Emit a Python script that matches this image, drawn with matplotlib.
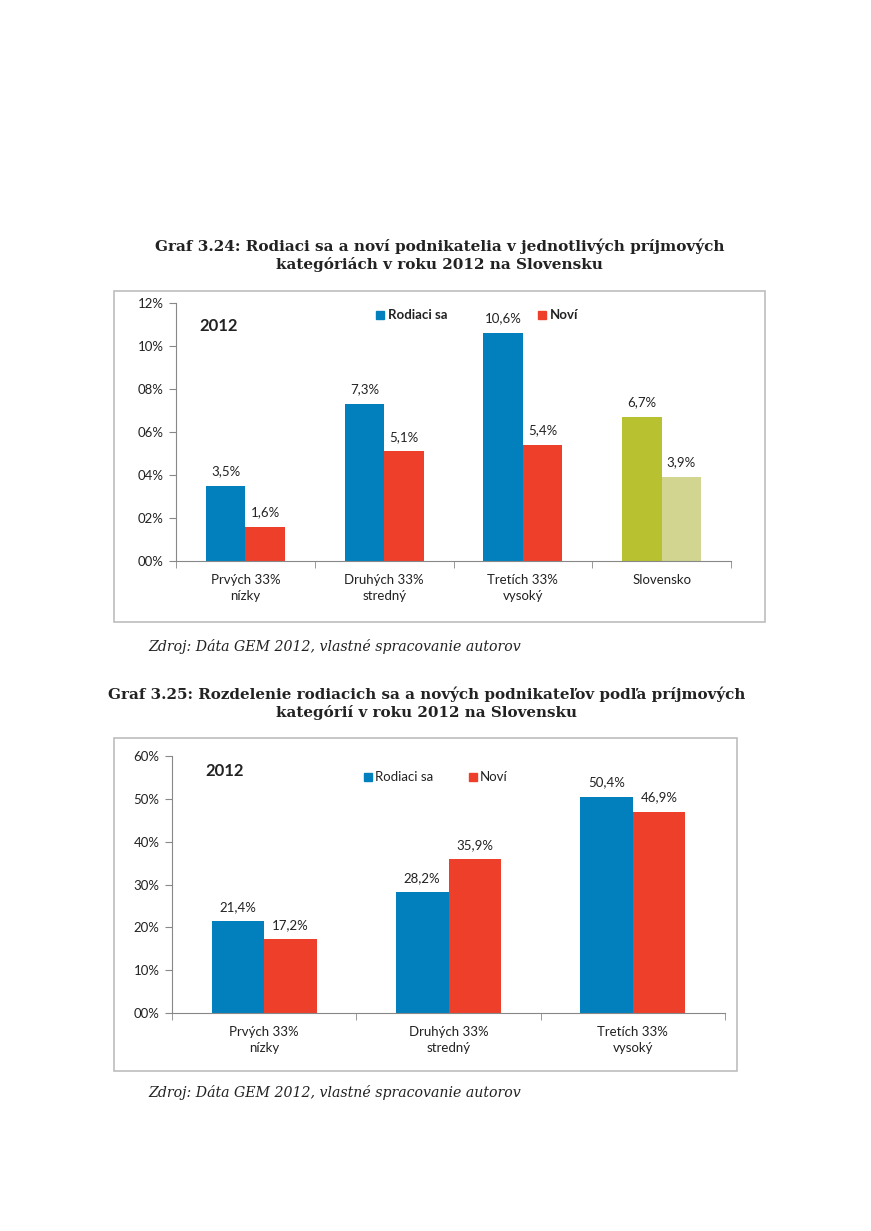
import matplotlib
matplotlib.use("Agg")
import matplotlib.pyplot as plt
from matplotlib.patches import Rectangle
from matplotlib.ticker import FuncFormatter
import numpy as np

# data
kat1 = ["Prvých 33%\nnízky", "Druhých 33%\nstredný", "Tretích 33%\nvysoký", "Slovensko"]
rodiaci1 = [3.5, 7.3, 10.6, 6.7]
novi1 = [1.6, 5.1, 5.4, 3.9]

kat2 = ["Prvých 33%\nnízky", "Druhých 33%\nstredný", "Tretích 33%\nvysoký"]
rodiaci2 = [21.4, 28.2, 50.4]
novi2 = [17.2, 35.9, 46.9]

modra = "#0180BD"
cervena = "#EE3F2B"
zelena = "#B8C130"
zelena2 = "#D1D58F"

W, H = 871, 1231
fig = plt.figure(figsize=(W / 100, H / 100), dpi=100)
plt.rcParams["font.family"] = ["Lato", "DejaVu Sans"]


def fx(x):
    return x / W


def fy(y):
    return 1 - y / H


def ramik(x0, y0, x1, y1):
    fig.add_artist(Rectangle((fx(x0), fy(y1)), fx(x1) - fx(x0), fy(y0) - fy(y1),
                             transform=fig.transFigure, fill=False,
                             edgecolor="#BDBDBD", lw=1.2))


def graf(ax, kat, a, b, farby_a, farby_b, ymax, krok):
    x = np.arange(len(kat))
    w = 0.285
    ax.bar(x - w / 2, a, w, color=farby_a)
    ax.bar(x + w / 2, b, w, color=farby_b)
    for i in range(len(kat)):
        ax.text(x[i] - w / 2, a[i] + ymax * 0.033, f"{a[i]:.1f}%".replace(".", ","),
                ha="center", va="bottom", fontsize=9.5, color="#222222")
        ax.text(x[i] + w / 2, b[i] + ymax * 0.033, f"{b[i]:.1f}%".replace(".", ","),
                ha="center", va="bottom", fontsize=9.5, color="#222222")
    ax.set_xlim(-0.5, len(kat) - 0.5)
    ax.set_ylim(0, ymax)
    ax.set_yticks(np.arange(0, ymax + 0.01, krok))
    ax.yaxis.set_major_formatter(FuncFormatter(lambda v, p: f"{int(round(v)):02d}%"))
    ax.set_xticks(x)
    ax.set_xticklabels(kat, fontsize=9.5, color="#222222", linespacing=1.5)
    ax.set_xticks(np.arange(-0.5, len(kat), 1), minor=True)
    ax.tick_params(axis="x", which="major", length=0, pad=9)
    ax.tick_params(axis="x", which="minor", length=5, color="#888888")
    ax.tick_params(axis="y", length=5, color="#888888", labelsize=9.5,
                   labelcolor="#222222", pad=4)
    for s in ["top", "right"]:
        ax.spines[s].set_visible(False)
    for s in ["left", "bottom"]:
        ax.spines[s].set_color("#888888")


# Graf 3.24
fig.text(0.505, fy(246), "Graf 3.24: Rodiaci sa a noví podnikatelia v jednotlivých príjmových",
         ha="center", va="center", fontsize=11, fontweight="bold", family="DejaVu Serif", color="#222222")
fig.text(0.505, fy(265), "kategóriách v roku 2012 na Slovensku",
         ha="center", va="center", fontsize=11, fontweight="bold", family="DejaVu Serif", color="#222222")
ramik(114, 291, 765, 622)
ax1 = fig.add_axes([fx(176), fy(561), fx(731) - fx(176), fy(303) - fy(561)])
graf(ax1, kat1, rodiaci1, novi1, [modra] * 3 + [zelena], [cervena] * 3 + [zelena2], 12, 2)
fig.text(fx(199), fy(326), "2012", fontsize=12, fontweight="bold", va="center", color="#222222")
fig.add_artist(Rectangle((fx(376), fy(319)), fx(8), 8 / H, transform=fig.transFigure, color=modra))
fig.text(fx(388), fy(315), "Rodiaci sa", fontsize=9.5, fontweight="bold", va="center", color="#222222")
fig.add_artist(Rectangle((fx(538), fy(319)), fx(8), 8 / H, transform=fig.transFigure, color=cervena))
fig.text(fx(550), fy(315), "Noví", fontsize=9.5, fontweight="bold", va="center", color="#222222")
fig.text(fx(148), fy(647), "Zdroj: Dáta GEM 2012, vlastné spracovanie autorov",
         fontsize=10.2, style="italic", family="DejaVu Serif", va="center", color="#222222")

# Graf 3.25
fig.text(0.49, fy(694), "Graf 3.25: Rozdelenie rodiacich sa a nových podnikateľov podľa príjmových",
         ha="center", va="center", fontsize=10.9, fontweight="bold", family="DejaVu Serif", color="#222222")
fig.text(0.49, fy(713), "kategórií v roku 2012 na Slovensku",
         ha="center", va="center", fontsize=10.9, fontweight="bold", family="DejaVu Serif", color="#222222")
ramik(114, 738, 737, 1071)
ax2 = fig.add_axes([fx(172), fy(1013), fx(725) - fx(172), fy(756) - fy(1013)])
graf(ax2, kat2, rodiaci2, novi2, [modra] * 3, [cervena] * 3, 60, 10)
fig.text(fx(205), fy(771), "2012", fontsize=12, fontweight="bold", va="center", color="#222222")
fig.add_artist(Rectangle((fx(364), fy(781)), fx(8), 8 / H, transform=fig.transFigure, color=modra))
fig.text(fx(375), fy(777), "Rodiaci sa", fontsize=9.5, va="center", color="#222222")
fig.add_artist(Rectangle((fx(469), fy(781)), fx(8), 8 / H, transform=fig.transFigure, color=cervena))
fig.text(fx(480), fy(777), "Noví", fontsize=9.5, va="center", color="#222222")
fig.text(fx(148), fy(1093), "Zdroj: Dáta GEM 2012, vlastné spracovanie autorov",
         fontsize=10.2, style="italic", family="DejaVu Serif", va="center", color="#222222")

fig.savefig("out.png", dpi=100)
